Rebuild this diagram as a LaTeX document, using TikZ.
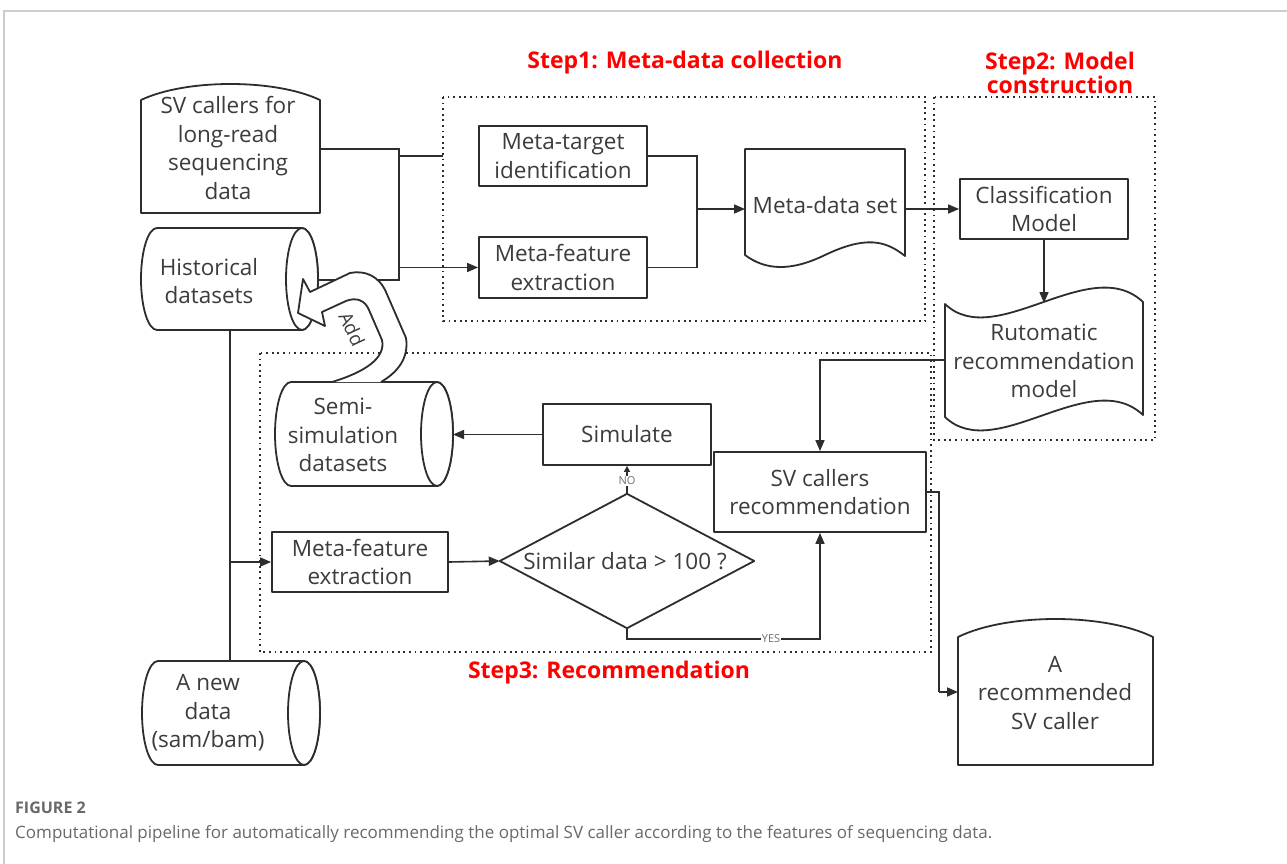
\documentclass[tikz,border=0pt]{standalone}
\usepackage{fontspec}
\setmainfont{Open Sans}
\usetikzlibrary{arrows.meta,calc}
\definecolor{ln}{RGB}{45,45,45}
\definecolor{tx}{RGB}{60,60,60}
\definecolor{stepred}{RGB}{255,0,0}
\definecolor{framegray}{RGB}{205,205,205}
\definecolor{capgray}{RGB}{105,105,105}
\tikzset{
  outline/.style={line width=1.8pt, draw=ln, fill=white, line join=round},
  box/.style={outline, rectangle, inner sep=0pt, font=\fontsize{22.5}{28.5}\selectfont, text=tx, align=center},
  lbl/.style={inner sep=0pt, font=\fontsize{22.5}{28.5}\selectfont, text=tx, align=center},
  conn/.style={line width=1.6pt, draw=ln},
  arr/.style={conn, -{Triangle[length=11pt,width=9pt]}},
  smallarr/.style={conn, -{Triangle[length=6pt,width=6pt]}},
  stepbox/.style={line width=2pt, draw=ln, dash pattern=on 1.8pt off 3.8pt},
  steptitle/.style={text=stepred, font=\bfseries\fontsize{23}{22}\selectfont, align=center, inner sep=0pt},
  tag/.style={font=\fontsize{11}{11}\selectfont, text=tx!75, fill=white, inner sep=1pt},
}
\newcommand\hcylinder[5]{% L,R,T,B,rx
  \draw[outline] ({#1+#5},#3) -- ({#2-#5},#3)
    arc[start angle=-90,end angle=90,x radius=#5,y radius={(#4-#3)/2}]
    -- ({#1+#5},#4)
    arc[start angle=90,end angle=270,x radius=#5,y radius={(#4-#3)/2}] -- cycle;
  \draw[outline] ({#2-#5},{(#3+#4)/2}) ellipse[x radius=#5,y radius={(#4-#3)/2}];
}
\newcommand\cardshape[5]{% L,R,Tc,Tp,B
  \draw[outline] (#1,#5) -- (#1,#3)
    .. controls ({#1+(#2-#1)/4},{(8*#4-2*#3)/6}) and ({#2-(#2-#1)/4},{(8*#4-2*#3)/6}) .. (#2,#3)
    -- (#2,#5) -- cycle;
}
\begin{document}
\begin{tikzpicture}[x=1pt,y=-1pt]
\useasboundingbox[fill=white] (0,0) rectangle (1287,864);
\draw[framegray, line width=2pt] (4,864) -- (4,11) -- (1287,11);

% step regions
\draw[stepbox] (443,97) rectangle (925,321);
\draw[stepbox] (934,97) rectangle (1155,440);
\draw[stepbox] (260,353) rectangle (931,652);

\node[steptitle] (t1) at (685,63) {Step1: Meta-data collection};
\node[steptitle] (t2) at (1060,73) {Step2: Model\\construction};
\node[steptitle] (t3) at (609,673) {Step3: Recommendation};

% shapes
\cardshape{141}{320}{100}{84}{213}
\node[lbl] (svc) at (228,148) {SV callers for\\long-read\\sequencing\\data};

\hcylinder{141}{318}{228}{330}{16}
\node[lbl] (hist) at (209,281) {Historical\\datasets};

\node[box, minimum width=168pt, minimum height=60pt] (mti) at (563,156) {Meta-target\\identification};
\node[box, minimum width=168pt, minimum height=61pt] (mfe1) at (563,267.5) {Meta-feature\\extraction};

\draw[outline] (745,149) -- (905,149) -- (905,256)
  .. controls (885,240) and (865,236) .. (825,255)
  .. controls (790,272) and (765,270) .. (745,255) -- cycle;
\node[lbl] (mds) at (825,205) {Meta-data set};

\node[box, minimum width=168pt, minimum height=60pt] (cm) at (1044,209) {Classification\\Model};

\draw[outline] (945,304) .. controls (995,352) and (1090,252) .. (1143,302)
  -- (1143,415) .. controls (1090,365) and (995,465) .. (945,417) -- cycle;
\node[lbl] (ram) at (1044,361) {Rutomatic\\recommendation\\model};

\node[box, minimum width=212pt, minimum height=80pt] (scr) at (820,492) {SV callers\\recommendation};
\node[box, minimum width=168pt, minimum height=61pt] (sim) at (627,434.5) {Simulate};

\hcylinder{275}{453}{382}{486}{16}
\node[lbl] (semi) at (343,435) {Semi-\\simulation\\datasets};

\node[inner sep=0pt, minimum width=254pt, minimum height=134pt] (dia) at (627,561) {};
\draw[outline] (dia.north) -- (dia.east) -- (dia.south) -- (dia.west) -- cycle;
\node[lbl] (diatext) at (625,561) {Similar data > 100 ?};

\node[box, minimum width=176pt, minimum height=60pt] (mfe2) at (360,562) {Meta-feature\\extraction};

\hcylinder{142}{320}{661}{765}{16}
\node[lbl] (new) at (208,713) {A new\\data\\(sam/bam)};

\cardshape{958}{1153}{637}{619}{765}
\node[lbl] (rec) at (1055,693) {A\\recommended\\SV caller};

% coordinates on shape borders and junctions
\coordinate (svcE) at (320,149);
\coordinate (jA) at (399,149);
\coordinate (jB) at (399,280);
\coordinate (histE) at (318,280);
\coordinate (jC) at (399,156);
\coordinate (stub) at (443,156);
\coordinate (jD) at (399,267.5);
\coordinate (jF) at (697,156);
\coordinate (jG) at (697,267.5);
\coordinate (jE) at (697,209);
\coordinate (mdsW) at (745,209);
\coordinate (mdsE) at (905,209);
\coordinate (ramTop) at (1044,303);
\coordinate (ramW) at (945,360);
\coordinate (jH) at (820,360);
\coordinate (jI) at (627,639);
\coordinate (jJ) at (820,639);
\coordinate (semiE) at (453,434.5);
\coordinate (histB) at (230,330);
\coordinate (newT) at (230,661);
\coordinate (jK) at (230,562);
\coordinate (jL) at (939,492);
\coordinate (jM) at (939,692);
\coordinate (recW) at (958,692);

% connectors
\draw[conn] (svcE) -- (jA) -- (jB) -- (histE);
\draw[conn] (jC) -- (stub);
\draw[arr] (jD) -- (mfe1.west);
\draw[conn] (mti.east) -- (jF) -- (jG) -- (mfe1.east);
\draw[arr] (jE) -- (mdsW);
\draw[arr] (mdsE) -- (cm.west);
\draw[arr] (cm.south) -- (ramTop);
\draw[arr] (ramW) -- (jH) -- (scr.north);
\draw[smallarr] (dia.north) -- (sim.south);
\node[tag] (no) at (627,481) {NO};
\draw[arr] (dia.south) -- (jI) -- (jJ) -- (scr.south);
\node[tag] (yes) at (771,639) {YES};
\draw[arr] (sim.west) -- (semiE);
\draw[arr] (mfe2.east) -- (dia.west);
\draw[conn] (histB) -- (newT);
\draw[arr] (jK) -- (mfe2.west);
\draw[conn] (scr.east) -- (jL) -- (jM);
\draw[arr] (jM) -- (recW);

% Add block arrow
\draw[outline] (381,382) .. controls (398,372) and (409,358) .. (406,338)
  -- (386,292) .. controls (379,276) and (365,270) .. (350,273)
  -- (310,292) -- (303,279) -- (298,313) -- (325,326) -- (322,312)
  -- (346,301) .. controls (356,297) and (365,300) .. (369,310)
  -- (382,340) .. controls (386,358) and (365,372) .. (332,382);
\node[lbl, rotate=-65, font=\fontsize{19}{19}\selectfont] (addtxt) at (352,329) {Add};

% caption
\node[anchor=west, inner sep=0pt, text=capgray, font=\bfseries\fontsize{16}{16}\selectfont] (fig) at (15,808) {FIGURE 2};
\node[anchor=west, inner sep=0pt, text=capgray, font=\fontsize{17}{17}\selectfont] (captxt) at (15,834) {Computational pipeline for automatically recommending the optimal SV caller according to the features of sequencing data.};
\end{tikzpicture}
\end{document}
